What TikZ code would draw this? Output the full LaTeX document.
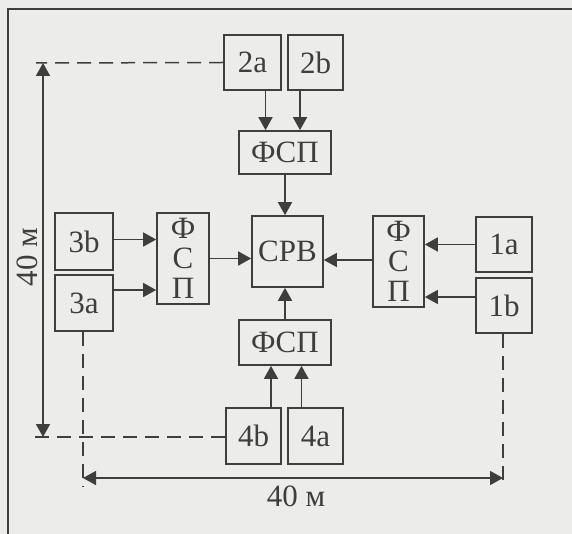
\documentclass[tikz,border=0pt]{standalone}
\usepackage{fontspec}
\setmainfont{Liberation Serif}
\usetikzlibrary{arrows.meta}
\definecolor{ink}{RGB}{62,62,62}
\definecolor{paper}{RGB}{236,236,234}
\tikzset{
  box/.style={draw=ink, line width=1.7pt, text=ink, inner sep=0pt, font=\fontsize{31}{31}\selectfont, align=center},
  arr/.style={draw=ink, line width=1.7pt, -{Triangle[length=13pt,width=14pt]}},
  dimarr/.style={draw=ink, line width=1.5pt, {Triangle[length=13pt,width=14pt]}-{Triangle[length=13pt,width=14pt]}},
  dashline/.style={draw=ink, line width=1.5pt, dash pattern=on 14pt off 8pt},
  lbl/.style={text=ink, font=\fontsize{31}{31}\selectfont, inner sep=0pt}
}
\begin{document}
\begin{tikzpicture}[x=1pt,y=-1pt]
\fill[paper] (0,0) rectangle (572,534);
\useasboundingbox (0,0) rectangle (572,534);
% frame
\draw[ink, line width=1.7pt] (8,534) -- (8,9) -- (572,9);
% boxes
\node[box, minimum width=57pt, minimum height=55pt] (b2a) at (252.5,62.5) {2a};
\node[box, minimum width=55pt, minimum height=55pt] (b2b) at (315.5,62.5) {2b};
\node[box, minimum width=92pt, minimum height=43pt] (fspT) at (285,152.5) {ФСП};
\node[box, minimum width=71pt, minimum height=71pt] (srv) at (287.5,251.5) {СРВ};
\node[box, minimum width=52pt, minimum height=91pt] (fspL) at (183,258.5) {Ф\\[-1pt]С\\[-1pt]П};
\node[box, minimum width=51pt, minimum height=91pt] (fspR) at (398.5,261.5) {Ф\\[-1pt]С\\[-1pt]П};
\node[box, minimum width=92pt, minimum height=45pt] (fspB) at (285,342.5) {ФСП};
\node[box, minimum width=58pt, minimum height=57pt] (b3b) at (84,241.5) {3b};
\node[box, minimum width=58pt, minimum height=56pt] (b3a) at (84,303) {3a};
\node[box, minimum width=56pt, minimum height=55pt] (b1a) at (504,244.5) {1a};
\node[box, minimum width=56pt, minimum height=55pt] (b1b) at (504,305.5) {1b};
\node[box, minimum width=55pt, minimum height=56pt] (b4b) at (253.5,436) {4b};
\node[box, minimum width=55pt, minimum height=56pt] (b4a) at (315.5,436) {4a};
% arrows
\draw[arr] ([xshift=13pt]b2a.south) -- ([xshift=13pt]b2a.south |- fspT.north);
\draw[arr] ([xshift=-15.5pt]b2b.south) -- ([xshift=-15.5pt]b2b.south |- fspT.north);
\draw[arr] (fspT.south) -- (fspT.south |- srv.north);
\draw[arr] ([yshift=2pt]b3b.east) -- ([yshift=2pt]b3b.east -| fspL.west);
\draw[arr] ([yshift=13pt]b3a.east) -- ([yshift=13pt]b3a.east -| fspL.west);
\draw[arr] (fspL.east) -- (fspL.east -| srv.west);
\draw[arr] (b1a.west) -- (b1a.west -| fspR.east);
\draw[arr] ([yshift=8.5pt]b1b.west) -- ([yshift=8.5pt]b1b.west -| fspR.east);
\draw[arr] ([yshift=1.5pt]fspR.west) -- ([yshift=1.5pt]fspR.west -| srv.east);
\draw[arr] (fspB.north) -- (fspB.north |- srv.south);
\draw[arr] ([xshift=17.5pt]b4b.north) -- ([xshift=17.5pt]b4b.north |- fspB.south);
\draw[arr] ([xshift=-14pt]b4a.north) -- ([xshift=-14pt]b4a.north |- fspB.south);
% dashed extension lines
\coordinate (tl) at (36,63);
\coordinate (bl) at (35,437);
\coordinate (lb) at (83,486);
\coordinate (rb) at (503,485);
\draw[dashline] (b2a.west) -- (tl);
\draw[dashline] ([yshift=-1pt]b4b.west) -- (bl);
\draw[dashline] (b3a.south -| lb) -- (lb);
\draw[dashline] (b1b.south -| rb) -- (rb);
% dimension arrows
\coordinate (vt) at (43,63);
\coordinate (vb) at (43,437);
\coordinate (hl) at (83,478);
\coordinate (hr) at (503,478);
\draw[dimarr] (vt) -- (vb);
\draw[dimarr] (hl) -- (hr);
\node[lbl, rotate=90] (lv) at (27,257) {40 м};
\node[lbl] (lh) at (296,496) {40 м};
\end{tikzpicture}
\end{document}
